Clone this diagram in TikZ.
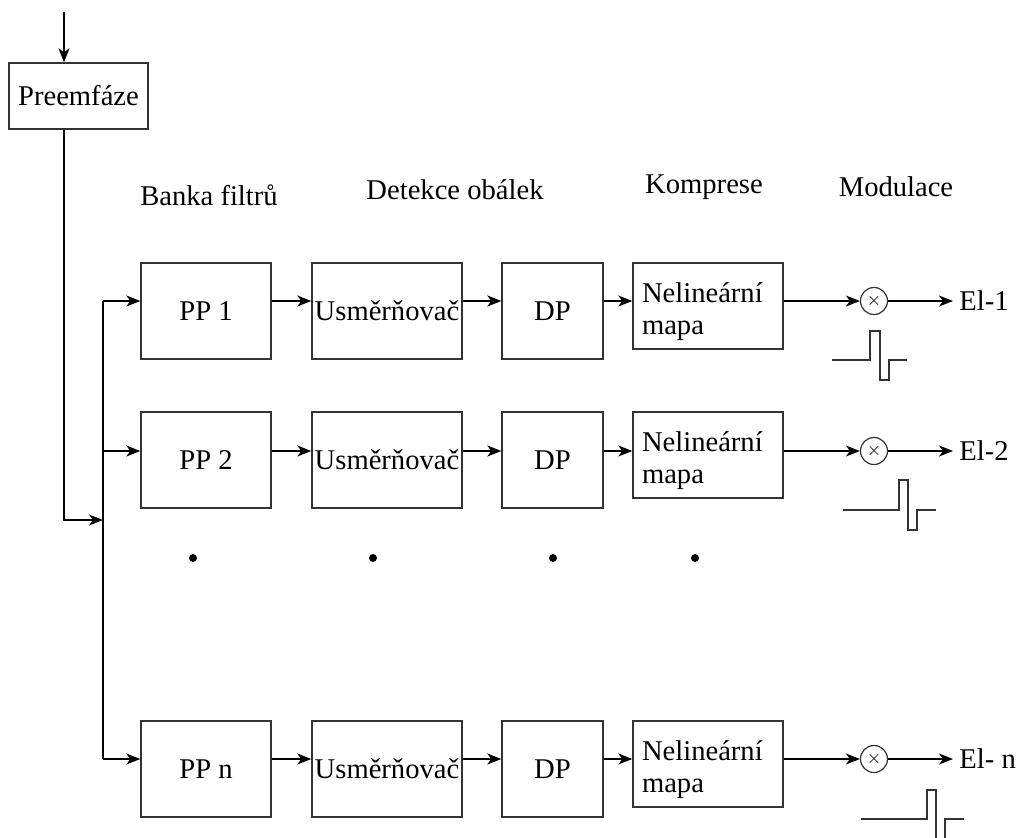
\documentclass[tikz,border=0pt]{standalone}
\usepackage{fontspec}
\setmainfont{Liberation Serif}
\usetikzlibrary{positioning, arrows.meta, calc}

\newcommand{\nelin}{\rule{0pt}{16pt}Nelineární\\mapa}

\begin{document}
\begin{tikzpicture}[
    x=0.5pt, y=-0.5pt,
    every node/.style={font=\fontsize{14.3}{16}\selectfont},
    blok/.style={rectangle, draw=black!80, line width=0.7pt, inner sep=0pt, minimum height=48pt},
    mapa/.style={blok, minimum height=43pt, text width=66pt, inner xsep=4.5pt, align=left},
    nasob/.style={circle, draw=black!80, line width=0.6pt, minimum size=13.5pt, inner sep=0pt,
                  font=\fontsize{9}{9}\selectfont},
    sig/.style={-{Stealth[length=7pt, width=5.5pt, inset=2pt]}, line width=0.7pt},
    vodic/.style={line width=0.7pt},
    puls/.style={line width=0.7pt, draw=black!80},
    vystup/.style={anchor=west, inner xsep=3pt, inner ysep=0pt}
]
\clip (0,0) rectangle (1019,837);
% vstup a preemfaze
\coordinate (in) at (64,12);
\node[blok, minimum width=69.5pt, minimum height=33pt] (pre) at (78.5,96) {Preemfáze};
\draw[sig] (in) -- (pre.north -| in);
\coordinate (j) at (103,520);
\coordinate (bt) at (103,301);
\coordinate (bm) at (103,451);
\coordinate (bb) at (103,759);
\draw[sig] (pre.south -| in) |- (j);
\draw[vodic] (bt) -- (bb);
% nadpisy
\node (hb) at (209,195) {Banka filtrů};
\node (hd) at (455,190) {Detekce obálek};
\node (hk) at (704,187) {Komprese};
\node (hm) at (896,187) {Modulace};
% kanal 1
\node[blok, minimum width=65pt] (pp1) at (206,311) {PP 1};
\node[blok, minimum width=75pt] (us1) at (387,311) {Usměrňovač};
\node[blok, minimum width=50.5pt] (dp1) at (552.5,311) {DP};
\node[mapa] (nm1) at (708,306) {\nelin};
\node[nasob] (m1) at (874,301) {$\times$};
\node[vystup] (el1) at (953,301) {El-1};
\draw[sig] (bt) -- (pp1.west |- bt);
\draw[sig] (pp1.east |- bt) -- (us1.west |- bt);
\draw[sig] (us1.east |- bt) -- (dp1.west |- bt);
\draw[sig] (dp1.east |- bt) -- (nm1.west |- bt);
\draw[sig] (nm1.east |- bt) -- (m1);
\draw[sig] (m1) -- (el1);
\draw[puls] (832,360) -- (870,360) -- (870,331) -- (880,331) -- (880,380) -- (889,380) -- (889,360) -- (907,360);
% kanal 2
\node[blok, minimum width=65pt] (pp2) at (206,460) {PP 2};
\node[blok, minimum width=75pt] (us2) at (387,460) {Usměrňovač};
\node[blok, minimum width=50.5pt] (dp2) at (552.5,460) {DP};
\node[mapa] (nm2) at (708,455) {\nelin};
\node[nasob] (m2) at (874,451) {$\times$};
\node[vystup] (el2) at (953,451) {El-2};
\draw[sig] (bm) -- (pp2.west |- bm);
\draw[sig] (pp2.east |- bm) -- (us2.west |- bm);
\draw[sig] (us2.east |- bm) -- (dp2.west |- bm);
\draw[sig] (dp2.east |- bm) -- (nm2.west |- bm);
\draw[sig] (nm2.east |- bm) -- (m2);
\draw[sig] (m2) -- (el2);
\draw[puls] (843,510) -- (899,510) -- (899,480) -- (908,480) -- (908,530) -- (917,530) -- (917,510) -- (936,510);
% tecky
\fill (193,558) circle (2pt);
\fill (373,558) circle (2pt);
\fill (553,558) circle (2pt);
\fill (695,558) circle (2pt);
% kanal n
\node[blok, minimum width=65pt] (ppn) at (206,769) {PP n};
\node[blok, minimum width=75pt] (usn) at (387,769) {Usměrňovač};
\node[blok, minimum width=50.5pt] (dpn) at (552.5,769) {DP};
\node[mapa] (nmn) at (708,764) {\nelin};
\node[nasob] (mn) at (874,759) {$\times$};
\node[vystup] (eln) at (953,759) {El- n};
\draw[sig] (bb) -- (ppn.west |- bb);
\draw[sig] (ppn.east |- bb) -- (usn.west |- bb);
\draw[sig] (usn.east |- bb) -- (dpn.west |- bb);
\draw[sig] (dpn.east |- bb) -- (nmn.west |- bb);
\draw[sig] (nmn.east |- bb) -- (mn);
\draw[sig] (mn) -- (eln);
\draw[puls] (861,819) -- (927,819) -- (927,790) -- (936,790) -- (936,845) -- (945,845) -- (945,819) -- (964,819);
\end{tikzpicture}
\end{document}
